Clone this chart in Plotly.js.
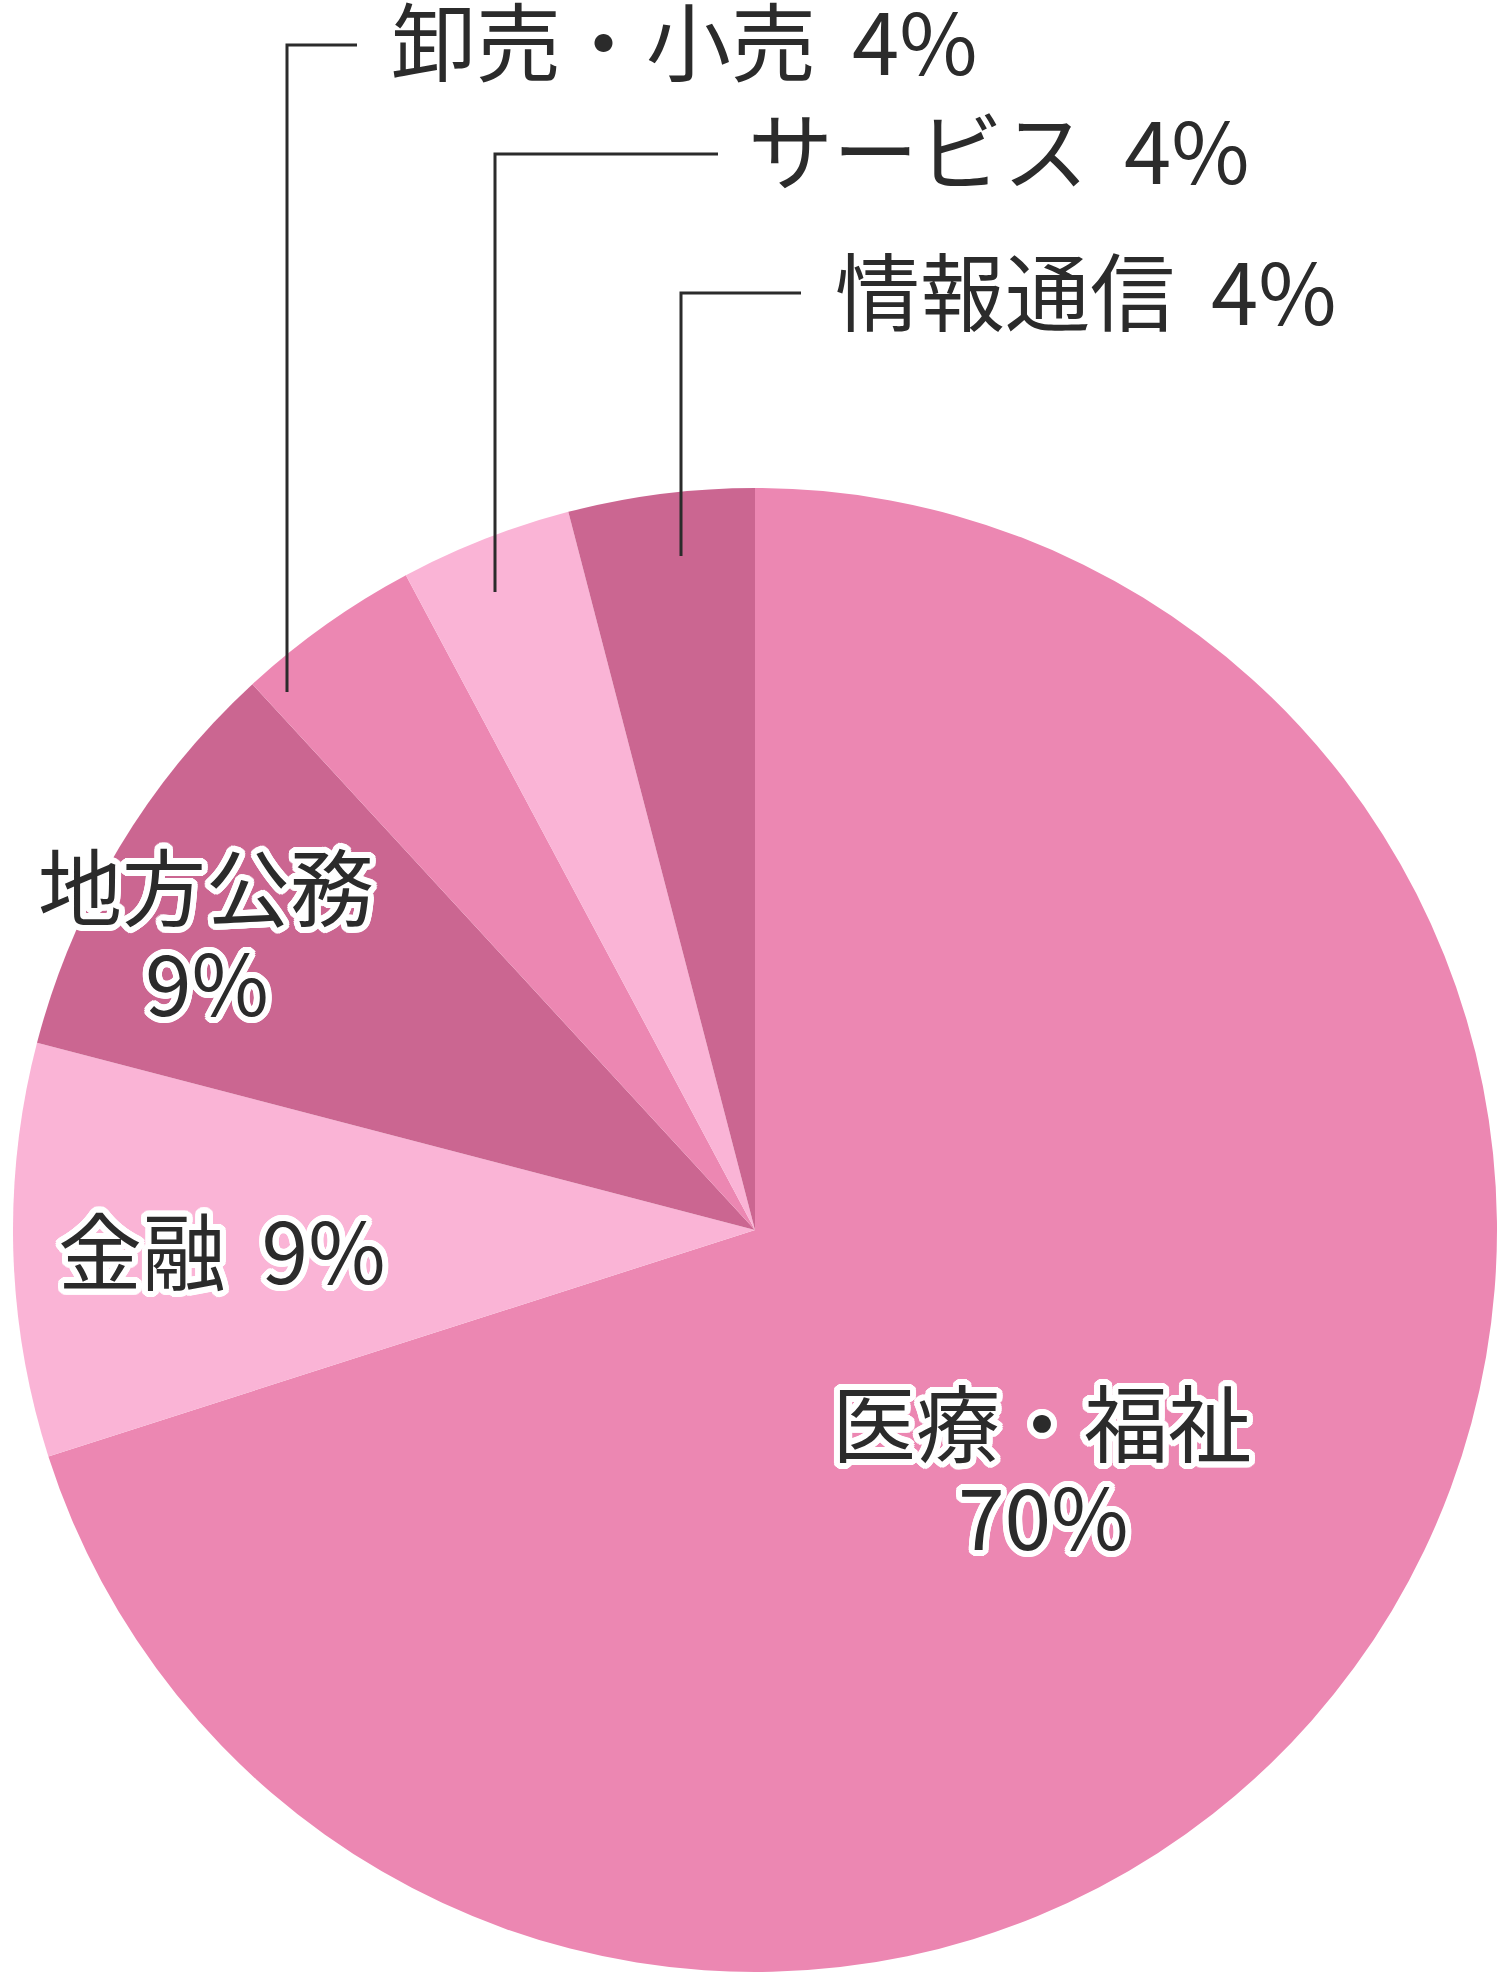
<!DOCTYPE html>
<html>
<head>
<meta charset="utf-8">
<script src="https://cdn.plot.ly/plotly-3.0.1.min.js"></script>
<style>
  html, body { margin: 0; padding: 0; background: #ffffff; }
  #chart { width: 1500px; height: 1987px; }
</style>
</head>
<body>
<div id="chart"></div>
<script>
// ---- data (clockwise from 12 o'clock) ----
const categories = ["医療・福祉", "金融", "地方公務", "卸売・小売", "サービス", "情報通信"];
const values = [70.1, 9.0, 9.1, 4.05, 3.75, 4.05];
const percentLabels = ["70%", "9%", "9%", "4%", "4%", "4%"];
const sliceColors = ["#EC87B2", "#FAB4D6", "#CB6691", "#EC87B2", "#FAB4D6", "#CB6691"];

// ---- geometry helpers (pixel -> paper) ----
const W = 1500, H = 1987;
const px = x => x / W;
const py = y => 1 - y / H;

const cx = 755, cy = 1230, R = 742;

const FONT = '"Noto Sans CJK JP", "Noto Sans", sans-serif';
const ink = "#2b2b2b";
const GAP = " \u2009";

// white outline via text-shadow
const outline = (() => {
  const r = 6, parts = [];
  for (let i = 0; i < 24; i++) {
    const a = i / 24 * 2 * Math.PI;
    parts.push((r * Math.cos(a)).toFixed(2) + "px " + (r * Math.sin(a)).toFixed(2) + "px 0 #ffffff");
  }
  return parts.join(", ");
})();

const trace = {
  type: "pie",
  labels: categories,
  values: values,
  sort: false,
  direction: "clockwise",
  rotation: 0,
  marker: { colors: sliceColors, line: { width: 0 } },
  textinfo: "none",
  hoverinfo: "label+percent",
  showlegend: false,
  domain: { x: [px(cx - R), px(cx + R)], y: [py(cy + R), py(cy - R)] }
};

// outside labels with leader lines
const outsideLabels = [
  { idx: 3, lineX: 287, lineBottom: 692, lineY: 45, lineEnd: 357, textX: 389, textY: 37 },
  { idx: 4, lineX: 495, lineBottom: 592, lineY: 154, lineEnd: 718, textX: 746, textY: 147 },
  { idx: 5, lineX: 681, lineBottom: 556, lineY: 293, lineEnd: 801, textX: 833, textY: 287 }
];

const annotations = [];
const shapes = [];

outsideLabels.forEach(o => {
  annotations.push({
    xref: "paper", yref: "paper",
    x: px(o.textX), y: py(o.textY),
    xanchor: "left", yanchor: "middle",
    text: categories[o.idx] + GAP + percentLabels[o.idx],
    showarrow: false,
    font: { family: FONT, size: 85, color: ink }
  });
  shapes.push({
    type: "path", xref: "paper", yref: "paper",
    path: "M " + px(o.lineX) + " " + py(o.lineBottom) +
          " L " + px(o.lineX) + " " + py(o.lineY) +
          " L " + px(o.lineEnd) + " " + py(o.lineY),
    line: { color: ink, width: 3 }
  });
});

// inside labels
const insideLabels = [
  { text: categories[2], x: 206, y: 884 },
  { text: percentLabels[2], x: 207, y: 979 },
  { text: categories[1] + GAP + percentLabels[1], x: 222, y: 1247 },
  { text: categories[0], x: 1042, y: 1419 },
  { text: percentLabels[0], x: 1043, y: 1513 }
];

insideLabels.forEach(l => {
  annotations.push({
    xref: "paper", yref: "paper",
    x: px(l.x), y: py(l.y),
    xanchor: "center", yanchor: "middle",
    text: l.text,
    showarrow: false,
    font: { family: FONT, size: 84, color: ink, shadow: outline }
  });
});

const layout = {
  width: W, height: H,
  margin: { l: 0, r: 0, t: 0, b: 0 },
  paper_bgcolor: "#ffffff",
  plot_bgcolor: "#ffffff",
  showlegend: false,
  annotations: annotations,
  shapes: shapes
};

Plotly.newPlot("chart", [trace], layout, { displayModeBar: false, staticPlot: true });
</script>
</body>
</html>
